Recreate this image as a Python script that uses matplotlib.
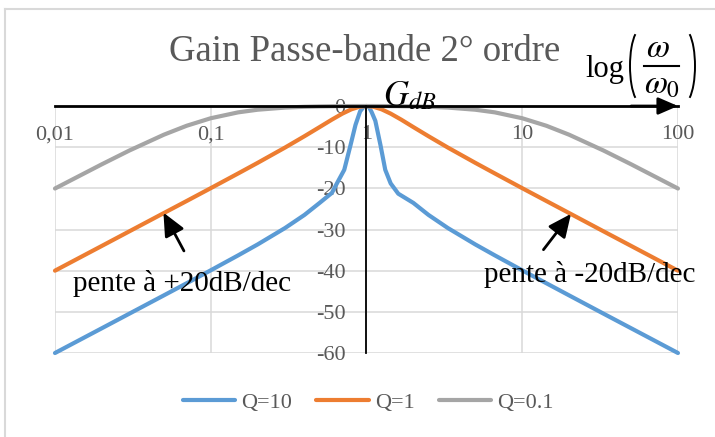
import matplotlib
matplotlib.use("Agg")
import matplotlib.pyplot as plt
from matplotlib.lines import Line2D
from matplotlib.patches import Arc

plt.rcParams['font.family'] = ['Liberation Serif', 'DejaVu Serif']
plt.rcParams['mathtext.fontset'] = 'stix'
plt.rcParams['axes.unicode_minus'] = False

# pulsation reduite w/w0
freq = [0.01, 0.02, 0.03, 0.05, 0.07, 0.1, 0.15, 0.2, 0.3, 0.4, 0.5, 0.6, 0.7, 0.8, 0.9, 1,
        1.11, 1.25, 1.43, 1.67, 2, 2.5, 3.33, 5, 6.67, 10, 14.3, 20, 33.3, 50, 100]
freq_q10 = [0.01, 0.02, 0.03, 0.05, 0.07, 0.1, 0.15, 0.2, 0.3, 0.4, 0.5, 0.6, 0.65, 0.72, 0.79, 0.85,
            0.91, 0.96, 1, 1.04, 1.08, 1.14, 1.23, 1.32, 1.43, 1.6, 2, 2.5, 3.33, 5, 6.67, 10,
            14.3, 20, 33.3, 50, 100]

# gains en dB
gain_q10 = [-60, -53.98, -50.45, -46.0, -43.06, -39.91, -36.28, -33.63, -29.64, -26.45, -23.54, -21.1,
            -18.6, -15.5, -9.5, -4.6, -1.3, -0.2, 0, -0.3, -1.5, -3.6, -9.5, -15.5, -18.8, -21.3,
            -23.54, -26.45, -29.64, -33.63, -36.28, -39.91, -43.06, -46.0, -50.45, -53.98, -60]
gain_q1 = [-40.0, -33.98, -30.45, -26.0, -23.08, -19.96, -16.38, -13.81, -10.09, -7.33, -5.12, -3.30,
           -1.85, -0.80, -0.19, 0, -0.19, -0.80, -1.85, -3.30, -5.12, -7.33, -10.09, -13.81, -16.38,
           -19.96, -23.08, -26.0, -30.45, -33.98, -40.0]
gain_q01 = [-20.04, -14.15, -10.82, -6.97, -4.80, -2.97, -1.54, -0.90, -0.38, -0.19, -0.10, -0.05,
            -0.02, -0.01, 0, 0, 0, -0.01, -0.02, -0.05, -0.10, -0.19, -0.38, -0.90, -1.54, -2.97,
            -4.80, -6.97, -10.82, -14.15, -20.04]

xticks = [0.01, 0.1, 1, 10, 100]
xtick_labels = ['0,01', '0,1', '1', '10', '100']
yticks = [0, -10, -20, -30, -40, -50, -60]

grey_txt = '#595959'
grid_col = '#D9D9D9'

fig = plt.figure(figsize=(7.15, 4.37), dpi=100)
ax = fig.add_axes([0.0769, 0.1922, 0.8713, 0.5652])

ax.plot(freq_q10, gain_q10, color='#5B9BD5', lw=3, label='Q=10', clip_on=False, solid_capstyle='round')
ax.plot(freq, gain_q1, color='#ED7D31', lw=3, label='Q=1', clip_on=False, solid_capstyle='round')
ax.plot(freq, gain_q01, color='#A5A5A5', lw=3, label='Q=0.1', clip_on=False, solid_capstyle='round')

ax.set_xscale('log')
ax.set_xlim(0.01, 100)
ax.set_ylim(-60, 0)
ax.set_xticks(xticks)
ax.set_xticklabels(xtick_labels)
ax.minorticks_off()
ax.set_yticks(yticks)
ax.grid(True, color=grid_col, lw=1.1)
ax.set_axisbelow(True)

# axes croises en (1, 0)
for s in ['top', 'right']:
    ax.spines[s].set_visible(False)
ax.spines['bottom'].set_position(('data', 0))
ax.spines['left'].set_position(('data', 1))
ax.spines['bottom'].set_linewidth(2)
ax.spines['left'].set_linewidth(1.3)
ax.spines['bottom'].set_zorder(3)
ax.spines['left'].set_zorder(3)
ax.tick_params(axis='x', length=0, pad=14, labelsize=16, labelcolor=grey_txt)
ax.tick_params(axis='y', length=0, pad=15, labelsize=16, labelcolor=grey_txt)
ax.annotate('', xy=(100, 0), xytext=(50, 0), annotation_clip=False, zorder=5,
            arrowprops=dict(arrowstyle='-|>,head_length=0.6,head_width=0.26', mutation_scale=20,
                            lw=2, color='black', shrinkA=0, shrinkB=0))

ax.text(1.27, 0.3, r'$G_{dB}$', fontsize=25, ha='left', va='baseline', clip_on=False)

# log(w/w0) construit a la main (position en pixels depuis le haut)
px = fig.dpi_scale_trans
H = 4.37
fig.text(585 / 715, 1 - 77 / 437, 'log', fontsize=22, ha='left', va='baseline')
fig.text(658 / 715, 1 - 49 / 437, r'$\omega$', fontsize=24, ha='center', va='center')
fig.text(662 / 715, 1 - 85 / 437, r'$\omega_0$', fontsize=24, ha='center', va='center')
fig.add_artist(Line2D([6.44, 6.79], [H - 0.657, H - 0.657], color='black', lw=1.5, transform=px))
fig.add_artist(Arc((6.41, H - 0.66), 0.22, 0.74, theta1=100, theta2=260, lw=1.4, color='black', transform=px))
fig.add_artist(Arc((6.84, H - 0.66), 0.22, 0.74, theta1=-80, theta2=80, lw=1.4, color='black', transform=px))

# pentes
arrow = dict(arrowstyle='-|>,head_length=0.7,head_width=0.32', mutation_scale=20,
             lw=2, color='black', shrinkA=0, shrinkB=0)
ax.annotate('', xy=(0.0497, -25.9), xytext=(0.0673, -35.2), arrowprops=arrow)
ax.annotate('', xy=(20.56, -26.2), xytext=(13.69, -34.9), arrowprops=arrow)
ax.text(0.013, -44.9, 'pente à +20dB/dec', fontsize=21, va='baseline', ha='left')
ax.text(5.71, -42.7, 'pente à -20dB/dec', fontsize=21, va='baseline', ha='left')

fig.text(0.51, 0.882, 'Gain Passe-bande 2° ordre', fontsize=26.5, color=grey_txt,
         ha='center', va='center')

fig.legend(loc='center', bbox_to_anchor=(0.515, 0.078), ncol=3, frameon=False,
           fontsize=16, handlelength=2.35, handletextpad=0.27, columnspacing=1.1,
           labelcolor=grey_txt)

# cadre du graphique
fig.add_artist(Line2D([0.007, 1.0], [0.9787, 0.9787], color=grid_col, lw=1.5))
fig.add_artist(Line2D([0.007, 0.007], [0.0, 0.9787], color=grid_col, lw=1.5))

fig.savefig('out.png', dpi=100)
